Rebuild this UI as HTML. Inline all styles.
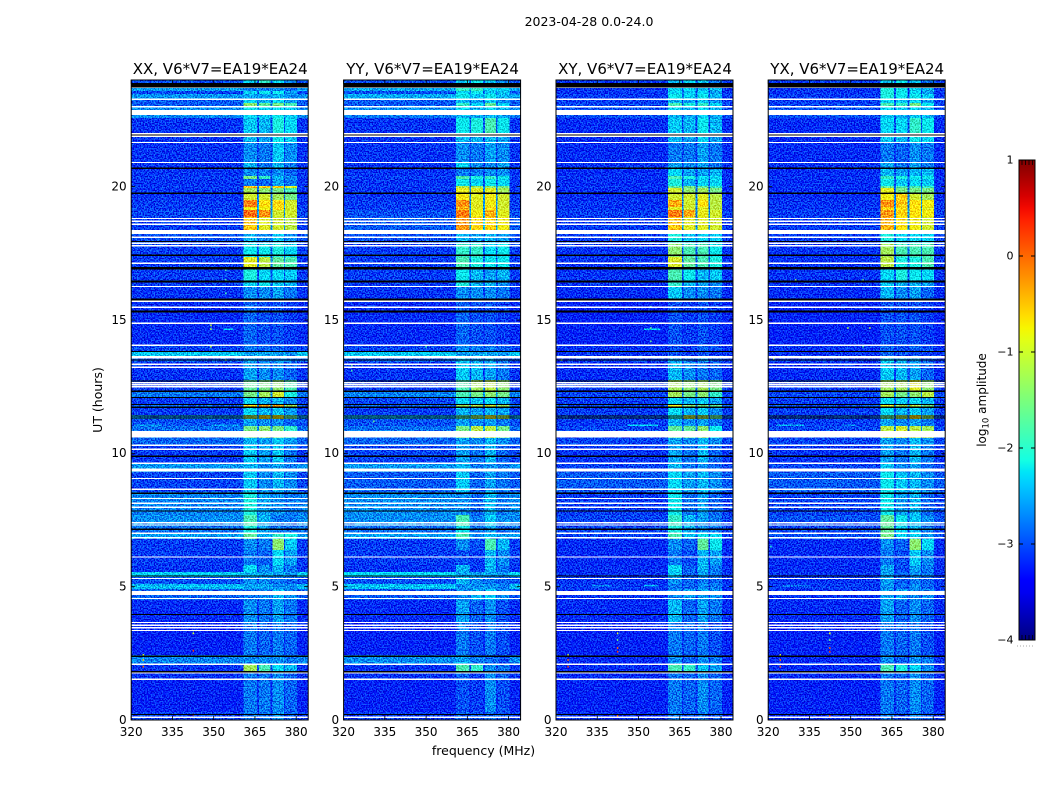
<!DOCTYPE html>
<html>
<head>
<meta charset="utf-8">
<title>Baseline amplitude waterfall</title>
<style>
html,body{margin:0;padding:0;background:#fff;}
svg{display:block;font-family:"DejaVu Sans","Liberation Sans",sans-serif;fill:#000;}
</style>
</head>
<body>
<svg id="chart" width="1050" height="800" viewBox="0 0 1050 800" xmlns="http://www.w3.org/2000/svg">
  <defs>
    <filter id="speckle" x="0" y="0" width="1" height="1" color-interpolation-filters="sRGB">
      <feTurbulence type="fractalNoise" baseFrequency="0.72" numOctaves="1" seed="7" result="n"/>
      <feColorMatrix in="n" type="matrix" values="1 0 0 0 0  5.5 0 0 0 -2.25  2.4 0 0 0 -0.7  0 0 0 0 1" result="m"/>
      <feComposite in="SourceGraphic" in2="m" operator="arithmetic" k1="0" k2="1" k3="0.5" k4="-0.25"/>
    </filter>
    <linearGradient id="jet-gradient" x1="0" y1="1" x2="0" y2="0"></linearGradient>
  </defs>
  <text x="589" y="26" font-size="12.5" text-anchor="middle">2023-04-28 0.0-24.0</text>
  <text transform="translate(102,400) rotate(-90)" font-size="12.5" text-anchor="middle">UT (hours)</text>
  <text x="483.5" y="755" font-size="12.5" text-anchor="middle">frequency (MHz)</text>
  <g id="panels"></g>
  <g id="colorbar"></g>
  <text transform="translate(986,400) rotate(-90)" font-size="12" text-anchor="middle">log<tspan dy="2.5" font-size="8.5">10</tspan><tspan dy="-2.5"> amplitude</tspan></text>
  <line x1="1017" y1="646" x2="1035" y2="646" stroke="#aaa" stroke-width="1" stroke-dasharray="1 2"/>
</svg>
<script>
// Axis data
const freqTicks = [320, 335, 350, 365, 380];
const hourTicks = [0, 5, 10, 15, 20];
const colorbarTicks = [1, 0, -1, -2, -3, -4];
const panelNames = ['XX', 'YY', 'XY', 'YX'];
const baselineName = 'V6*V7=EA19*EA24';

// Frequency column edges (MHz): background, band A, gap, band B, gap, band C, gap, band D, tail
const freqEdges = [320, 360.8, 365.8, 366.4, 370.7, 371.4, 375.5, 376, 380.3, 384.36];

// Time segment edges (UT hours), top to bottom
const hourEdges = [24, 23.89, 23.7, 23.59, 23.48, 23.29, 23.14, 22.99, 22.69, 22.58, 22.01, 21.64, 20.89, 20.7, 20.4, 20.29, 20.03, 19.95, 19.73, 19.5, 19.24, 19.13, 18.86, 18.38, 17.89, 17.36, 16.95, 16.43, 16.24, 15.79, 14.06, 13.84, 13.65, 13.43, 12.75, 12.34, 12.08, 11.85, 11.7, 11.44, 11.29, 11.03, 10.58, 10.31, 9.64, 9.3, 8.55, 7.69, 7.28, 7.01, 6.79, 6.38, 5.81, 5.55, 5.36, 5.1, 4.91, 4.5, 3.68, 2.44, 2.06, 1.8, 1.5, 0.3, 0];

// log10 amplitude per time segment: [background, band A, band B, band C, band D]
const levelsXX = [
[-3,-2,-1.7,-2,-2.4],[-3.1,-2.6,-2.6,-2.6,-2.8],[-2.6,-2.5,-2.5,-2.4,-2.6],[-3.05,-2,-1.9,-1.9,-2.3],[-2.65,-2.3,-2.3,-2.2,-2.4],[-2.95,-2,-2.2,-2,-2.3],[-2.95,-1.3,-1.5,-1.4,-1.6],[-2.7,-1.9,-2,-2,-2.1],[-2.7,-2,-2.1,-1.9,-2.1],[-3.15,-2.1,-2.2,-1.8,-2],
[-3.15,-2.2,-2.3,-1.9,-2.1],[-3.15,-2.4,-2.5,-2.1,-2.4],[-3.15,-2.2,-2.5,-2.2,-2.5],[-3.15,-2.4,-2.5,-2.4,-2.6],[-3.1,-1.4,-1.7,-2.2,-2.4],[-3.15,-2.5,-2.6,-2.3,-2.5],[-3.1,-0.4,-0.5,-0.6,-0.9],[-3.15,-1.2,-1.3,-1.4,-1.6],[-3.15,-1,-1,-1.2,-1.4],[-3.1,-0.1,-0.7,-0.65,-1],
[-3.1,-0.8,-0.8,-0.7,-1],[-3.05,0,-0.2,-1,-1],[-3.1,-0.5,-0.9,-1,-1.1],[-3,-2.2,-2.4,-2.1,-2.4],[-3.1,-1.9,-1.9,-1.8,-2],[-3.1,-0.9,-1.1,-1.5,-1.6],[-3.1,-1.8,-2,-2,-2.1],[-3.1,-2,-1.9,-2.1,-2.2],[-3.15,-2.4,-2.4,-2.3,-2.5],[-3.2,-2.6,-2.7,-2.7,-2.8],
[-3.05,-2.5,-2.6,-2.6,-2.7],[-2.4,-2.3,-2.3,-2.3,-2.4],[-2.95,-2.3,-2.4,-2.4,-2.5],[-3.15,-2.3,-2.4,-2.4,-2.6],[-3.1,-1.5,-1.4,-1.3,-1.6],[-2.8,-1.4,-1.2,-1,-1.8],[-3.1,-2,-2.2,-2.2,-2.4],[-2.9,-0.6,-0.4,-0.4,-1.2],[-3.1,-2,-2.2,-2.1,-2.3],[-2.7,-1.2,-0.7,-0.8,-1.5],
[-3,-2.3,-2.4,-2.4,-2.6],[-2.85,-1.4,-1.3,-1.4,-1.7],[-2.9,-2.2,-2.3,-2.1,-2.3],[-3.1,-2.1,-2.3,-2.1,-2.5],[-2.65,-2.2,-2.4,-2.3,-2.5],[-3.05,-2.1,-2.4,-2.2,-2.4],[-2.75,-1.8,-2.3,-2.4,-2.5],[-2.7,-1.6,-2.2,-2.5,-2.5],[-2.85,-1.8,-2.3,-2.5,-2.5],[-2.6,-1.5,-2.2,-1.7,-1.8],
[-3.1,-2.4,-2.5,-1.3,-2.1],[-3.1,-2.5,-2.6,-2,-2.3],[-3.15,-2,-2.4,-2.2,-2.5],[-2.35,-2.2,-2.3,-2.3,-2.4],[-3,-2.4,-2.4,-2.5,-2.6],[-2.5,-2.3,-2.3,-2.4,-2.4],[-2.9,-2.5,-2.4,-2.2,-2.4],[-3.2,-2.4,-2.5,-2.3,-2.5],[-3.25,-2.5,-2.6,-2.5,-2.6],[-2.75,-2.4,-2.4,-2.4,-2.5],
[-3.15,-1.2,-1.6,-2,-2.2],[-3.15,-2.5,-2.5,-2.4,-2.6],[-3.25,-2.5,-2.5,-2.4,-2.6],[-3.1,-2.5,-2.5,-2.4,-2.6]
];
const levelsYY = [
[-3,-2.1,-1.9,-2.1,-2.4],[-3.1,-2.5,-2.5,-2.6,-2.8],[-2.55,-1.7,-1.7,-2,-2],[-3,-2,-1.9,-2.1,-2.1],[-2.55,-1.9,-2.1,-1.9,-2.2],[-2.95,-2.2,-2.3,-2.1,-2.4],[-2.95,-1.7,-2,-1.5,-2],[-2.7,-2,-2.2,-2,-2.2],[-2.8,-2.2,-2.3,-2.2,-2.3],[-3.15,-1.9,-1.8,-1.6,-1.9],
[-3.15,-2.2,-2.2,-2.2,-2.3],[-3.15,-2.4,-2.5,-2.3,-2.4],[-3.15,-2,-2.4,-2.4,-2.3],[-3.15,-2.5,-2.5,-2.4,-2.4],[-3.1,-1.6,-1.8,-1.7,-1.9],[-3.15,-1.9,-2,-1.9,-2],[-3.1,-1.1,-1.2,-1.3,-1.4],[-3.15,-0.85,-0.9,-0.9,-1.2],[-3.15,-0.75,-0.9,-0.8,-1],[-3.1,-0.2,-0.9,-0.8,-1],
[-3.1,-0.4,-0.9,-0.7,-1],[-3,-0.1,-0.8,-0.4,-0.9],[-2.95,-0.25,-0.6,-0.6,-0.8],[-3,-2.2,-2.3,-2.2,-2.3],[-3.1,-1.7,-1.7,-2,-1.9],[-3.1,-1.6,-1.8,-1.9,-1.9],[-3.1,-1.9,-2.2,-2.3,-2.2],[-3.1,-1.8,-2.2,-2.2,-2.4],[-3.15,-2.4,-2.4,-2.4,-2.5],[-3.2,-2.6,-2.7,-2.7,-2.8],
[-3.05,-2.4,-2.5,-2.5,-2.6],[-2.4,-2.3,-2.3,-2.3,-2.4],[-2.95,-2.2,-2.3,-2.3,-2.5],[-3.15,-2.1,-2.2,-2.3,-2.5],[-3.1,-1.6,-1.2,-1.1,-1.3],[-2.75,-1.6,-1.4,-1.3,-1.4],[-3.05,-2,-2.1,-2,-2.2],[-2.9,-1.2,-1.1,-1,-1.2],[-3.1,-2.2,-2.3,-2.2,-2.3],[-2.6,-1.6,-1.3,-0.9,-1.2],
[-3,-2.3,-2.4,-2.3,-2.5],[-2.85,-1.4,-1.1,-1.1,-1.4],[-2.9,-2.3,-2.4,-2.2,-2.4],[-3.05,-2.3,-2.5,-2.2,-2.6],[-2.65,-2.2,-2.5,-2.4,-2.5],[-2.95,-2.1,-2.6,-2.3,-2.5],[-2.7,-2.4,-2.6,-2.2,-2.5],[-2.7,-1.6,-2.5,-2.1,-2.4],[-2.85,-1.9,-2.5,-2.3,-2.6],[-2.6,-1.6,-2.4,-2.2,-2.3],
[-3.1,-2.4,-2.7,-1.6,-2.2],[-3.1,-2.7,-2.8,-2.2,-2.4],[-3.15,-2.2,-2.8,-2.2,-2.5],[-2.3,-2.3,-2.3,-2.3,-2.4],[-3,-2.2,-2.4,-2.5,-2.6],[-2.45,-2.4,-2.4,-2.4,-2.5],[-2.95,-2.4,-2.2,-2.1,-2.4],[-3.2,-2.3,-2.6,-2.4,-2.7],[-3.25,-2.5,-2.7,-2.5,-2.7],[-2.7,-2.3,-2.5,-2.6,-2.7],
[-3.15,-1.6,-1.7,-2.4,-2.5],[-3.15,-2.6,-2.8,-2.4,-2.6],[-3.25,-2.7,-2.8,-2.4,-2.7],[-3.1,-2.6,-2.7,-2.6,-2.7]
];
const levelsXY = [
[-3.1,-2.2,-2,-2.1,-2.5],[-3.2,-2.4,-2.5,-2.5,-2.7],[-3.15,-2,-2,-2.1,-2.2],[-3.15,-2,-2.1,-2,-2.3],[-3.1,-1.9,-2,-1.9,-2.2],[-3.1,-2.2,-2.3,-2.1,-2.4],[-3.05,-1.6,-1.8,-1.7,-2],[-3,-2,-2.2,-2,-2.2],[-3,-2.2,-2.3,-2.1,-2.3],[-3.2,-2.1,-2.2,-1.9,-2.2],
[-3.2,-2.2,-2.3,-2,-2.3],[-3.2,-2.5,-2.5,-2.3,-2.5],[-3.15,-2.3,-2.4,-2.3,-2.5],[-3.2,-2,-2.3,-2.3,-2.2],[-3.15,-1.6,-1.8,-2,-2],[-3.2,-1.8,-2.2,-2,-2],[-3.15,-1.5,-1.4,-1.5,-1.7],[-3.2,-1,-1.3,-1.2,-1.4],[-3.2,-1,-1,-0.9,-1.1],[-3.15,-0.35,-1,-0.7,-1.1],
[-3.15,-0.9,-1,-0.9,-1.1],[-3.1,-0.1,-0.35,-0.85,-1],[-3.1,-0.5,-0.9,-0.9,-1],[-3.1,-1.8,-2.1,-2,-2.1],[-3.15,-1.3,-1.6,-1.6,-1.9],[-3.15,-0.95,-1.5,-1.6,-1.8],[-3.15,-1.6,-1.9,-2.2,-2.1],[-3.15,-1.7,-2.2,-2.3,-2.4],[-3.2,-2.1,-2.4,-2.4,-2.5],[-3.25,-2.7,-2.8,-2.7,-2.8],
[-3.15,-2.7,-2.8,-2.6,-2.7],[-3.15,-2.7,-2.8,-2.7,-2.8],[-3.1,-2.3,-2.5,-2.4,-2.6],[-3.2,-2.2,-2.4,-2.5,-2.6],[-3.1,-1.2,-1.3,-1.2,-1.4],[-3.05,-1.2,-1.4,-1.3,-1.7],[-3.1,-2,-2.2,-2.1,-2.3],[-3,-0.8,-1.3,-1.4,-1.5],[-3.1,-2,-2.2,-2.1,-2.4],[-3,-1.8,-1.1,-1.2,-1.5],
[-3.1,-2.2,-2.4,-2.3,-2.5],[-3.05,-1.5,-1.5,-1.3,-1.9],[-3.05,-2.3,-2.4,-2.2,-2.4],[-3.15,-2.3,-2.5,-2.2,-2.6],[-3.05,-2.2,-2.5,-2.4,-2.6],[-2.95,-2,-2.3,-2.2,-2.4],[-3.1,-1.9,-2.5,-2.3,-2.6],[-3.05,-1.7,-2.2,-2.3,-2.5],[-3.05,-1.8,-2.2,-2.4,-2.5],[-3.05,-1.6,-2.1,-1.9,-2],
[-3.2,-2.4,-2.6,-1.5,-1.9],[-3.2,-2.5,-2.7,-2.2,-2.3],[-3.2,-2,-2.6,-2.2,-2.5],[-3.15,-2.1,-2.6,-2.3,-2.5],[-3.15,-2.4,-2.6,-2.5,-2.6],[-3.1,-2.5,-2.6,-2.4,-2.5],[-3.15,-2.4,-2.3,-2.3,-2.4],[-3.2,-2.2,-2.6,-2.3,-2.5],[-3.25,-2.5,-2.6,-2.5,-2.7],[-3.2,-2.4,-2.6,-2.4,-2.5],
[-3.2,-1.6,-1.7,-2.1,-2.3],[-3.2,-2.5,-2.6,-2.4,-2.6],[-3.25,-2.5,-2.6,-2.4,-2.6],[-3.2,-2.5,-2.7,-2.5,-2.7]
];
const levelsYX = [
[-3.1,-2.1,-1.9,-2.1,-2.5],[-3.2,-2.4,-2.5,-2.5,-2.7],[-3.15,-1.8,-1.9,-2,-2.2],[-3.15,-1.8,-1.9,-2,-2.3],[-3.1,-1.8,-1.9,-1.9,-2.1],[-3.1,-2,-2.1,-2,-2.3],[-3.05,-1.6,-1.7,-1.4,-1.9],[-3,-2,-2.1,-2,-2.2],[-3,-2.1,-2.2,-2.1,-2.2],[-3.2,-2,-2,-1.7,-1.9],
[-3.2,-2.1,-2.2,-1.9,-2],[-3.2,-2.5,-2.6,-2.4,-2.5],[-3.15,-2.3,-2.5,-2.3,-2.5],[-3.2,-2.2,-2.3,-2.2,-2.2],[-3.15,-1.7,-1.8,-1.9,-1.9],[-3.2,-1.9,-2.1,-2,-2.1],[-3.15,-1.5,-1.6,-1.6,-1.7],[-3.2,-0.9,-1.4,-1.4,-1.4],[-3.2,-0.8,-0.6,-1,-1.2],[-3.15,-0.2,-0.5,-0.7,-0.8],
[-3.15,-0.6,-0.7,-0.7,-0.9],[-3.1,-0.25,-0.6,-0.7,-0.8],[-3.1,-0.4,-0.7,-0.8,-1],[-3.1,-1.8,-2,-2,-2],[-3.15,-1.2,-1.6,-1.6,-1.6],[-3.15,-1.1,-1.8,-1.8,-1.6],[-3.15,-2,-1.8,-1.9,-2],[-3.15,-2.1,-2.2,-2.2,-2.3],[-3.2,-2.2,-2.4,-2.3,-2.6],[-3.25,-2.7,-2.7,-2.7,-2.8],
[-3.15,-2.6,-2.7,-2.6,-2.7],[-3.15,-2.6,-2.7,-2.7,-2.8],[-3.1,-2.1,-2.3,-2.3,-2.6],[-3.2,-2.1,-2.2,-2.3,-2.6],[-3.1,-1.2,-1.2,-0.9,-1.3],[-3.05,-1.2,-1.4,-1.3,-1.1],[-3.1,-2,-2.1,-2,-2.2],[-3,-0.9,-1.2,-1.1,-1.4],[-3.1,-2,-2.2,-2.1,-2.3],[-3,-1.5,-1.2,-0.7,-1.3],
[-3.1,-2.3,-2.4,-2.3,-2.5],[-3.05,-1.1,-1,-1.1,-1.2],[-3.05,-2.3,-2.4,-2.2,-2.4],[-3.15,-2.3,-2.5,-2.2,-2.5],[-3.05,-2.1,-2.4,-2.3,-2.6],[-2.95,-1.9,-2.1,-2.2,-2.4],[-3.05,-1.9,-2.3,-2.2,-2.6],[-3,-1.5,-1.9,-2.1,-2.4],[-3.05,-1.5,-2,-2.2,-2.5],[-3,-1.4,-2,-2,-2.3],
[-3.2,-2.4,-2.6,-1.3,-2],[-3.2,-2.5,-2.7,-2.1,-2.4],[-3.2,-2.3,-2.7,-2.3,-2.5],[-3.15,-2.3,-2.6,-2.4,-2.5],[-3.15,-2.3,-2.6,-2.5,-2.6],[-3.1,-2.4,-2.6,-2.4,-2.6],[-3.15,-2.3,-2.3,-2.4,-2.4],[-3.2,-2.3,-2.6,-2.4,-2.6],[-3.25,-2.5,-2.6,-2.5,-2.7],[-3.2,-2.4,-2.6,-2.4,-2.5],
[-3.2,-1.6,-1.8,-2,-2.4],[-3.2,-2.5,-2.6,-2.4,-2.6],[-3.25,-2.5,-2.6,-2.4,-2.6],[-3.2,-2.5,-2.7,-2.5,-2.7]
];

// Isolated interference: [MHz, UT hour, log10 amplitude]
const spikesXX = [[349,14.8,-1],[349,14.66,-1.2],[354.4,16.87,-1.8],[354.4,16.5,-1.8],[354.4,16,-1.8],[349,14,-1],[354.4,13.5,-1.2],[324.4,2.44,-1],[324.4,2.25,-0.5],[324.4,2,0],[342.6,3.25,-1],[342.6,2.6,0.3],[342.6,0.2,0]];
const spikesYY = [[323,13.3,-1.6],[323,13.1,-1.8],[350,14,-1.8],[331,11.2,-1.6]];
const spikesXY = [[324.4,2.44,-1],[324.4,2.25,0],[324.4,2,0.2],[342.4,3.25,-1],[342.4,3,-1.6],[342.4,2.7,0],[342.4,2.56,0.3],[342.4,0.15,0],[354.5,15.5,-1.6],[354.5,14.7,-1.6],[354.5,14.2,-1.6],[340,18,0.2],[322,13.5,-1.2]];
const spikesYX = [[324.4,2.44,-1],[324.4,2.25,0],[324.4,2,0.2],[342.4,3.25,-0.8],[342.4,3,-1.6],[342.4,2.7,0],[342.4,2.56,0.3],[342.4,0.15,0.3],[349,14.7,-1.2],[357,14.7,-1.2],[354.5,16.5,-1.6],[354.5,14,-1.8],[330,16.5,-1.3],[322,13.55,-1.2],[321,6.8,-2],[321,6.5,-2]];

// Narrow horizontal interference: [MHz start, MHz end, UT hour, log10 amplitude]
const streaksXX = [[321,331,11.06,-2.6],[349,359,11.06,-2.6],[353.5,357,14.66,-2.3],[321,360,5,-2.4]];
const streaksYY = [[321,360,5,-2.4]];
const streaksXY = [[346,357,11.06,-2.3],[352,358,14.65,-2.3],[333,340,5.03,-2.7],[352,357,5.03,-2.5]];
const streaksYX = [[323,333,11.06,-2.5],[347,352,11.06,-2.7],[325,335,5.03,-2.8]];

// Fully flagged time ranges (white), UT hours
const flaggedBands = [[22.69,22.88],[18.23,18.38],[13.56,13.65],[10.59,10.84],[9.31,9.44],[6.8,6.87],[4.69,4.84]];
const flaggedLines = [23.73,23.28,23,21.99,21.89,21.66,20.91,18.81,18.7,18.59,18.1,17.88,17.78,17.13,16.26,15.7,15.48,14.88,14.05,13.34,13.23,12.65,12.57,12.5,10.3,10.15,9.63,9.06,8.65,8.31,8.13,7.98,7.4,7.31,7,6.11,5.31,4.56,3.66,3.55,3.46,3.36,2.09,1.76,1.53,0.1];

// Dropouts (black), UT hours
const dropoutBands = [[23.72,23.89],[16.9,16.98],[16.41,16.49],[15.74,15.81],[15.29,15.36]];
const dropoutLines = [21.94,20.69,19.75,17.94,17.43,13.82,13.5,12.71,12.33,12.09,11.83,11.73,11.4,11.33,9.89,8.5,7.84,7.15,5.4,3.96,2.39,1.81,0.21];

const panelLevels = [levelsXX, levelsYY, levelsXY, levelsYX];
const panelSpikes = [spikesXX, spikesYY, spikesXY, spikesYX];
const panelStreaks = [streaksXX, streaksYY, streaksXY, streaksYX];
const panelLeft = [131.2, 343.6, 556, 768.2];

const NS = 'http://www.w3.org/2000/svg';
const PXPERMHZ = 2.75, TOP = 80, BOTTOM = 720, CB_LEFT = 1019, CB_RIGHT = 1035, CB_TOP = 160, CB_BOTTOM = 640;

function yOf(h) { return BOTTOM - h * (BOTTOM - TOP) / 24; }
function cbY(v) { return CB_BOTTOM - (v + 4) * (CB_BOTTOM - CB_TOP) / 5; }
function seg(t, a, b, c, d) { return t <= a ? 0 : t >= d ? 0 : t < b ? (t - a) / (b - a) : t <= c ? 1 : (d - t) / (d - c); }
function jet(t) {
  t = Math.max(0, Math.min(1, t));
  const r = t < 0.35 ? 0 : t < 0.66 ? (t - 0.35) / 0.31 : t < 0.89 ? 1 : 1 - (t - 0.89) / 0.11 * 0.5;
  const g = seg(t, 0.125, 0.375, 0.64, 0.91);
  const b = t < 0.11 ? 0.5 + t / 0.11 * 0.5 : t < 0.34 ? 1 : t < 0.65 ? 1 - (t - 0.34) / 0.31 : 0;
  return 'rgb(' + Math.round(r * 255) + ',' + Math.round(g * 255) + ',' + Math.round(b * 255) + ')';
}
function colorOf(v) { return jet((v + 4) / 5); }
// Quiet band levels read a little high by eye; bright levels stay as read.
function bandLevel(v) { return v >= -1 ? v : v - 0.3 * Math.min(1, (-1 - v) / 0.8); }
function make(tag, attrs, parent) {
  const el = document.createElementNS(NS, tag);
  for (const k in attrs) el.setAttribute(k, attrs[k]);
  parent.appendChild(el);
  return el;
}

const panelsRoot = document.getElementById('panels');
panelNames.forEach(function (name, p) {
  const x0 = panelLeft[p];
  const xOf = function (f) { return x0 + (f - 320) * PXPERMHZ; };
  const right = xOf(freqEdges[freqEdges.length - 1]);
  const width = right - x0;

  const panel = make('g', {}, panelsRoot);
  
  

  const heat = make('g', { filter: 'url(#speckle)', 'shape-rendering': 'crispEdges' }, panel);
  
  

  panelLevels[p].forEach(function (row, s) {
    const yTop = yOf(hourEdges[s]), yBot = yOf(hourEdges[s + 1]);
    const bands = row.slice(1).map(bandLevel);
    const gap = row[0] + 0.2 * (Math.min.apply(null, bands) - row[0]);
    const values = [row[0], bands[0], gap, bands[1], gap, bands[2], gap, bands[3], row[0]];
    values.forEach(function (v, c) {
      const cell = make('rect', {
        x: xOf(freqEdges[c]), y: yTop,
        width: xOf(freqEdges[c + 1]) - xOf(freqEdges[c]) + 0.3,
        height: yBot - yTop + 0.3, fill: colorOf(v)
      }, heat);
      
      
    });
  });

  panelStreaks[p].forEach(function (st) {
    const streak = make('rect', { x: xOf(st[0]), y: yOf(st[2]) - 0.7, width: (st[1] - st[0]) * PXPERMHZ, height: 1.4, fill: colorOf(st[3]) }, heat);
    
    
  });
  panelSpikes[p].forEach(function (sp) {
    const spike = make('rect', { x: xOf(sp[0]) - 0.7, y: yOf(sp[1]) - 0.9, width: 1.4, height: 1.8, fill: colorOf(sp[2]) }, panel);
    
    
  });

  const rows = make('g', { 'shape-rendering': 'crispEdges' }, panel);
  
  
  flaggedBands.forEach(function (b) {
    const band = make('rect', { x: x0, y: yOf(b[1]), width: width, height: yOf(b[0]) - yOf(b[1]), fill: '#fff' }, rows);
    
    
  });
  flaggedLines.forEach(function (h) {
    const line = make('rect', { x: x0, y: yOf(h) - 0.65, width: width, height: 1.3, fill: '#fff' }, rows);
    
    
  });
  dropoutBands.forEach(function (b) {
    const band = make('rect', { x: x0, y: yOf(b[1]), width: width, height: yOf(b[0]) - yOf(b[1]), fill: '#000' }, rows);
    
    
  });
  dropoutLines.forEach(function (h) {
    const line = make('rect', { x: x0, y: yOf(h) - 0.6, width: width, height: 1.2, fill: '#000' }, rows);
    
    
  });

  const frame = make('rect', { x: x0, y: TOP, width: width, height: BOTTOM - TOP, fill: 'none', stroke: '#000', 'stroke-width': 1 }, panel);
  
  

  freqTicks.forEach(function (f) {
    const tx = xOf(f);
    const tickB = make('line', { x1: tx, x2: tx, y1: BOTTOM, y2: BOTTOM - 4, stroke: '#000', 'stroke-width': 0.8 }, panel);
    
    
    const tickT = make('line', { x1: tx, x2: tx, y1: TOP, y2: TOP + 4, stroke: '#000', 'stroke-width': 0.8 }, panel);
    
    
    const label = make('text', { x: tx, y: 736, 'font-size': 12, 'text-anchor': 'middle' }, panel);
    
    
    label.textContent = f;
  });
  hourTicks.forEach(function (h) {
    const ty = yOf(h);
    const tickL = make('line', { x1: x0, x2: x0 + 4, y1: ty, y2: ty, stroke: '#000', 'stroke-width': 0.8 }, panel);
    
    
    const tickR = make('line', { x1: right, x2: right - 4, y1: ty, y2: ty, stroke: '#000', 'stroke-width': 0.8 }, panel);
    
    
    const label = make('text', { x: x0 - 4.5, y: ty + 3.8, 'font-size': 12, 'text-anchor': 'end' }, panel);
    
    
    label.textContent = h;
  });

  const title = make('text', { x: x0 + width / 2 + 0.5, y: 74, 'font-size': 15, 'text-anchor': 'middle' }, panel);
  
  
  title.textContent = name + ', ' + baselineName;
});

// Colorbar
const gradient = document.getElementById('jet-gradient');
for (let i = 0; i <= 40; i++) {
  make('stop', { offset: i / 40, 'stop-color': jet(i / 40) }, gradient);
}
const cb = document.getElementById('colorbar');
const cbBar = make('rect', { x: CB_LEFT, y: CB_TOP, width: CB_RIGHT - CB_LEFT, height: CB_BOTTOM - CB_TOP, fill: 'url(#jet-gradient)', stroke: '#000', 'stroke-width': 1 }, cb);


colorbarTicks.forEach(function (v) {
  const ty = cbY(v);
  if (v > -4 && v < 1) {
    const l = make('line', { x1: CB_LEFT, x2: CB_LEFT + 4, y1: ty, y2: ty, stroke: '#000', 'stroke-width': 1 }, cb);
    
    
    const r = make('line', { x1: CB_RIGHT, x2: CB_RIGHT - 4, y1: ty, y2: ty, stroke: '#000', 'stroke-width': 1 }, cb);
    
    
  }
  const label = make('text', { x: 1013.5, y: ty + 3.5, 'font-size': 11, 'text-anchor': 'end' }, cb);
  
  
  label.textContent = String(v).replace('-', '\u2212');
});
[1022, 1025.5, 1029, 1032.5].forEach(function (mx) {
  const t = make('line', { x1: mx, x2: mx, y1: CB_TOP, y2: CB_TOP + 5, stroke: '#000', 'stroke-width': 0.8 }, cb);
  
  
  const b = make('line', { x1: mx, x2: mx, y1: CB_BOTTOM, y2: CB_BOTTOM - 5, stroke: '#000', 'stroke-width': 0.8 }, cb);
  
  
});
</script>
</body>
</html>
